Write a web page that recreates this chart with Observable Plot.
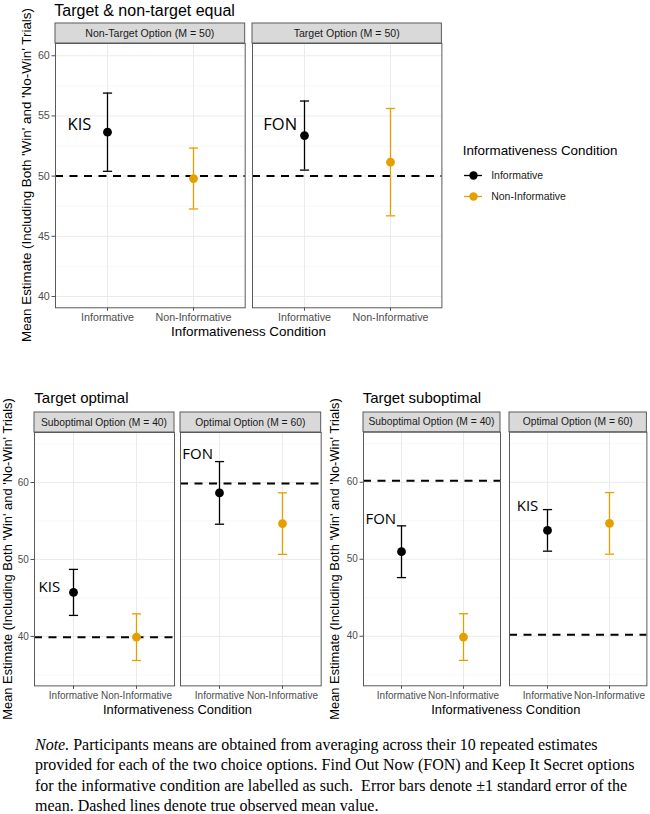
<!DOCTYPE html>
<html>
<head>
<meta charset="utf-8">
<script src="https://cdn.jsdelivr.net/npm/d3@7"></script>
<script src="https://cdn.jsdelivr.net/npm/@observablehq/plot@0.6"></script>
<style>
  html, body { margin: 0; padding: 0; background: #fff; }
  #page { position: relative; width: 650px; height: 814px; overflow: hidden; background: #fff; font-family: "Liberation Sans", Arial, sans-serif; }
  #page svg { position: absolute; overflow: visible; }
  .txt { position: absolute; white-space: nowrap; color: #000; line-height: 1; }
  .center { transform: translate(-50%, -50%); }
  .ytitle { transform: translate(-50%, -50%) rotate(-90deg); }
  #note { position: absolute; left: 35px; top: 735px; font-family: "Liberation Serif", "Times New Roman", serif; font-size: 16px; line-height: 20.3px; color: #000; white-space: nowrap; }
</style>
</head>
<body>
<div id="page"></div>
<script>
// ---- data ----
const conditions = ["Informative", "Non-Informative"];
const conditionColors = ["#000000", "#E69F00"];
const panelTitles = ["Target & non-target equal", "Target optimal", "Target suboptimal"];
const facetLabels = [
  ["Non-Target Option (M = 50)", "Target Option (M = 50)"],
  ["Suboptimal Option (M = 40)", "Optimal Option (M = 60)"],
  ["Suboptimal Option (M = 40)", "Optimal Option (M = 60)"]
];
// mean estimate per [panel][facet][condition]
const meanEstimates = [
  [[53.65, 49.8], [53.37, 51.16]],
  [[45.72, 39.9], [58.65, 54.66]],
  [[50.98, 39.9], [53.75, 54.66]]
];
// standard error per [panel][facet][condition]
const standardErrors = [
  [[3.25, 2.53], [2.87, 4.46]],
  [[2.99, 3.03], [4.07, 4.0]],
  [[3.36, 3.03], [2.7, 4.0]]
];
// true observed mean per [panel][facet]
const trueMeans = [[50, 50], [39.9, 59.87], [60.2, 40.2]];
const optionLabels = [["KIS", "FON"], ["KIS", "FON"], ["FON", "KIS"]];
const optionLabelY = [[54.3, 54.3], [46.4, 63.7], [55.2, 56.9]];
const majorTicks = [[40, 45, 50, 55, 60], [40, 50, 60], [40, 50, 60]];
const minorTicks = [[42.5, 47.5, 52.5, 57.5], [35, 45, 55, 65], [35, 45, 55, 65]];
const yTitle = "Mean Estimate (Including Both 'Win' and 'No-Win' Trials)";
const xTitle = "Informativeness Condition";

// ---- layout of the three panel groups ----
const layout = [
  { yDomain: [39.06, 61.02], stripTop: 22.7, panelTop: 42.7, panelBottom: 307,
    facets: [[55, 244.7], [252.3, 441.7]], tickFont: 10.7, stripFont: 10.6, labelFont: 16.5,
    labelDx: [-28, -24.3], title: [54.3, 11, 16], yT: [27, 13.4], xT: [248.5, 332.3, 13.4] },
  { yDomain: [33.57, 66.5], stripTop: 412.3, panelTop: 432.3, panelBottom: 685.7,
    facets: [[33.7, 173.7], [180.3, 321]], tickFont: 10, stripFont: 10.3, labelFont: 15,
    labelDx: [-24.2, -21.8], title: [34.3, 397.3, 15], yT: [8, 12.9], xT: [177.5, 710, 12.9] },
  { yDomain: [33.57, 66.5], stripTop: 412, panelTop: 431.7, panelBottom: 685.3,
    facets: [[362.7, 499.7], [509.3, 646.7]], tickFont: 10, stripFont: 10.3, labelFont: 15,
    labelDx: [-20.7, -20], title: [362.7, 396.7, 15], yT: [335, 12.9], xT: [505.8, 710, 12.9] }
];

const page = document.getElementById("page");

// horizontal error-bar cap drawn as a custom symbol
const capSymbol = {
  draw(context, size) {
    const w = Math.sqrt(size / Math.PI);
    context.moveTo(-w, 0);
    context.lineTo(w, 0);
  }
};

function addText(text, x, y, size, cls, extra = {}) {
  const d = document.createElement("div");
  d.className = "txt " + cls;
  d.textContent = text;
  d.style.left = x + "px";
  d.style.top = y + "px";
  d.style.fontSize = size + "px";
  Object.assign(d.style, extra);
  page.appendChild(d);
  return d;
}

function drawFacet(g, f) {
  const cfg = layout[g];
  const [left, right] = cfg.facets[f];
  const showY = f === 0;
  const innerW = right - left;
  const innerH = cfg.panelBottom - cfg.panelTop;
  const stripH = cfg.panelTop - cfg.stripTop;
  const mL = showY ? 30 : 1, mR = 1, mT = stripH + 1, mB = 26;

  const rows = conditions.map((c, i) => ({
    condition: c,
    mean: meanEstimates[g][f][i],
    se: standardErrors[g][f][i]
  }));
  const note = [{ condition: "Informative", label: optionLabels[g][f], y: optionLabelY[g][f] }];

  const svg = Plot.plot({
    width: mL + innerW + mR,
    height: mT + innerH + mB,
    marginLeft: mL, marginRight: mR, marginTop: mT, marginBottom: mB,
    style: { fontFamily: "'Liberation Sans', Arial, sans-serif", fontSize: cfg.tickFont + "px",
             color: "#4D4D4D", background: "transparent", overflow: "visible" },
    x: { type: "point", domain: conditions, padding: 0.6, tickSize: 3.5, tickPadding: 2.3, label: null },
    y: { domain: cfg.yDomain, ticks: majorTicks[g], tickSize: 3.5, tickPadding: 2.2,
         label: null, axis: showY ? "left" : null },
    color: { domain: conditions, range: conditionColors },
    marks: [
      Plot.ruleY(minorTicks[g], { stroke: "#F3F3F3", strokeWidth: 0.7 }),
      Plot.ruleY(majorTicks[g], { stroke: "#EBEBEB", strokeWidth: 1 }),
      Plot.ruleX(conditions, { stroke: "#EBEBEB", strokeWidth: 1 }),
      Plot.ruleY([trueMeans[g][f]], { stroke: "#000", strokeWidth: 2, strokeDasharray: "8,6.5" }),
      Plot.ruleX(rows, { x: "condition", y1: d => d.mean - d.se, y2: d => d.mean + d.se,
                          stroke: "condition", strokeWidth: 1.3 }),
      Plot.dot(rows, { x: "condition", y: d => d.mean - d.se, symbol: capSymbol, r: 4.6,
                       stroke: "condition", strokeWidth: 1.3 }),
      Plot.dot(rows, { x: "condition", y: d => d.mean + d.se, symbol: capSymbol, r: 4.6,
                       stroke: "condition", strokeWidth: 1.3 }),
      Plot.dot(rows, { x: "condition", y: "mean", r: 4.4, fill: "condition", stroke: "none" }),
      Plot.text(note, { x: "condition", y: "y", text: "label", dx: cfg.labelDx[f],
                        fontSize: cfg.labelFont, fontFamily: "'Open Sans', sans-serif", fill: "#000" }),
      Plot.frame({ stroke: "#5a5a5a", strokeWidth: 1 })
    ]
  });

  // facet strip
  const s = d3.select(svg);
  s.append("rect")
    .attr("x", mL).attr("y", 1).attr("width", innerW).attr("height", stripH)
    .attr("fill", "#D9D9D9").attr("stroke", "#5a5a5a").attr("stroke-width", 1);
  s.append("text")
    .attr("x", mL + innerW / 2).attr("y", 1 + stripH / 2).attr("dy", "0.35em")
    .attr("text-anchor", "middle").attr("font-size", cfg.stripFont).attr("fill", "#1A1A1A")
    .text(facetLabels[g][f]);

  svg.style.left = (left - mL) + "px";
  svg.style.top = (cfg.stripTop - 1) + "px";
  page.appendChild(svg);
}

layout.forEach((cfg, g) => {
  drawFacet(g, 0);
  drawFacet(g, 1);
  addText(panelTitles[g], cfg.title[0], cfg.title[1], cfg.title[2], "", { transform: "translateY(-50%)" });
  addText(yTitle, cfg.yT[0], (cfg.panelTop + cfg.panelBottom) / 2, cfg.yT[1], "ytitle");
  addText(xTitle, cfg.xT[0], cfg.xT[1], cfg.xT[2], "center");
});

// legend for the informativeness condition
addText("Informativeness Condition", 462.7, 150.7, 13.4, "", { transform: "translateY(-50%)" });
const legend = Plot.plot({
  width: 190, height: 46,
  marginLeft: 4, marginRight: 168, marginTop: 0, marginBottom: 0,
  style: { fontFamily: "'Liberation Sans', Arial, sans-serif", background: "transparent", overflow: "visible" },
  x: { domain: [0, 1], axis: null },
  y: { type: "point", domain: conditions, range: [12.3, 33.7], padding: 0, axis: null },
  color: { domain: conditions, range: conditionColors },
  marks: [
    Plot.ruleY(conditions, { y: d => d, x1: 0, x2: 1, stroke: d => d, strokeWidth: 1.3 }),
    Plot.dot(conditions, { y: d => d, x: 0.5, r: 4.2, fill: d => d, stroke: "none" }),
    Plot.text(conditions, { y: d => d, x: 1, dx: 8.7, text: d => d, textAnchor: "start",
                            fontSize: 10.5, fill: "#1A1A1A" })
  ]
});
legend.style.left = "460px";
legend.style.top = "162px";
page.appendChild(legend);

// note below the figure
const noteDiv = document.createElement("div");
noteDiv.id = "note";
noteDiv.innerHTML = "<i>Note.</i> Participants means are obtained from averaging across their 10 repeated estimates<br>" +
  "provided for each of the two choice options. Find Out Now (FON) and Keep It Secret options<br>" +
  "for the informative condition are labelled as such.&nbsp; Error bars denote \u00b11 standard error of the<br>" +
  "mean. Dashed lines denote true observed mean value.";
page.appendChild(noteDiv);
</script>
</body>
</html>
